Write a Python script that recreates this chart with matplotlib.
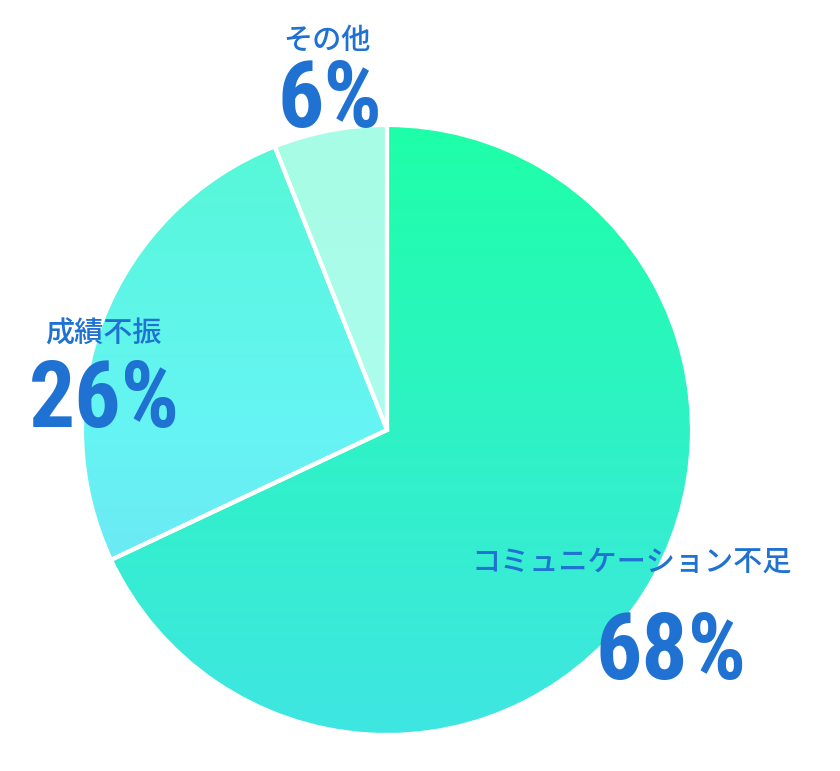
import numpy as np
import matplotlib.pyplot as plt
from matplotlib.colors import LinearSegmentedColormap

# data
labels = ['コミュニケーション不足', '成績不振', 'その他']
values = [68, 26, 6]
pct_text = ['68%', '26%', '6%']

# vertical gradients (top colour, bottom colour) per slice
grad_colors = [['#1effa8', '#3fe6e2'],
               ['#55f8d6', '#66f4f4', '#72dcf2'],
               ['#a6fde4', '#b4fbf8']]

text_color = '#1f72d2'
jp_font = ['Noto Sans CJK JP', 'DejaVu Sans']
num_font = ['Roboto Condensed', 'DejaVu Sans']

W, H = 840, 771
fig = plt.figure(figsize=(W / 100, H / 100), dpi=100)
ax = fig.add_axes([0, 0, 1, 1])

cx, cy, r = 387, H - 430, 305
wedges, _ = ax.pie(values, startangle=90, counterclock=False,
                   center=(cx, cy), radius=r, frame=True,
                   wedgeprops=dict(edgecolor='white', linewidth=3))
ax.set_xlim(0, W)
ax.set_ylim(0, H)
ax.set_aspect('equal')
ax.axis('off')

grad = np.linspace(0, 1, 256).reshape(-1, 1)
for w, cols in zip(wedges, grad_colors):
    cmap = LinearSegmentedColormap.from_list('g', cols)
    im = ax.imshow(grad, cmap=cmap, aspect='auto', origin='upper',
                   extent=(cx - r, cx + r, cy - r, cy + r), zorder=1)
    im.set_clip_path(w)
    w.set_facecolor('none')
    w.set_zorder(2)

# labels
label_pos = [(632, 562), (103, 334), (327, 40)]
pct_pos = [(671, 654), (104, 401), (330, 101)]
for lab, (x, y) in zip(labels, label_pos):
    ax.text(x, H - y, lab, ha='center', va='center', fontsize=21,
            color=text_color, family=jp_font, fontweight='medium', zorder=3)
for p, (x, y) in zip(pct_text, pct_pos):
    ax.text(x, H - y, p, ha='center', va='center', fontsize=66,
            color=text_color, family=num_font, fontweight='bold',
            fontstretch='condensed', zorder=3)

fig.savefig('out.png', dpi=100)
plt.close(fig)
